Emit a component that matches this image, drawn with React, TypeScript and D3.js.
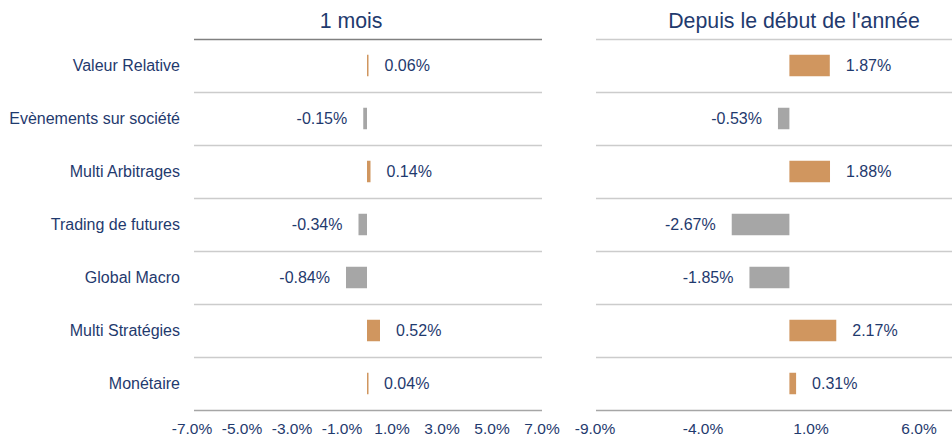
import React from "react";
import * as d3 from "d3";

const categories = [
  "Valeur Relative",
  "Evènements sur société",
  "Multi Arbitrages",
  "Trading de futures",
  "Global Macro",
  "Multi Stratégies",
  "Monétaire",
];
const monthValues = [0.06, -0.15, 0.14, -0.34, -0.84, 0.52, 0.04];
const ytdValues = [1.87, -0.53, 1.88, -2.67, -1.85, 2.17, 0.31];
const monthTicks = [-7, -5, -3, -1, 1, 3, 5, 7];
const ytdTicks = [-9, -4, 1, 6];
const titles = ["1 mois", "Depuis le début de l'année"];

const W = 952;
const H = 437;
const TEXT = "#1f3a6e";
const POS = "#d0965f";
const NEG = "#a6a6a6";
const FONT = "'Liberation Sans', Arial, sans-serif";

const y = d3.scaleBand<string>().domain(categories).range([39, 410]).paddingInner(0).paddingOuter(0);
const barH = 21.5;

const fmt = (v: number) => v.toFixed(2) + "%";
const tickFmt = (v: number) => v.toFixed(1) + "%";

type PanelProps = {
  values: number[];
  ticks: number[];
  domain: [number, number];
  range: [number, number];
  lineRange: [number, number];
  title: string;
  titleX: number;
  headerColor: string;
};

function Panel({ values, ticks, domain, range, lineRange, title, titleX, headerColor }: PanelProps) {
  const x = d3.scaleLinear().domain(domain).range(range);
  const bounds = categories.map((c) => y(c)!);
  return (
    <g>
      <text x={titleX} y={28} textAnchor="middle" fontSize={21.3} fill={TEXT} fontFamily={FONT}>
        {title}
      </text>
      {bounds.map((b, i) => (
        <line
          key={"l" + i}
          x1={lineRange[0]}
          x2={lineRange[1]}
          y1={b + 0.5}
          y2={b + 0.5}
          stroke={i === 0 ? headerColor : "#cccccc"}
          strokeWidth={1.3}
        />
      ))}
      <line
        x1={lineRange[0]}
        x2={lineRange[1]}
        y1={y.range()[1] + 0.5}
        y2={y.range()[1] + 0.5}
        stroke="#a6a6a6"
        strokeWidth={1.3}
      />
      {values.map((v, i) => {
        const c = categories[i];
        const cy = y(c)! + y.bandwidth() / 2;
        const x0 = x(0);
        const x1 = x(v);
        const left = Math.min(x0, x1);
        const w = Math.max(Math.abs(x1 - x0), 1.5);
        return (
          <g key={"b" + i}>
            <rect x={left} y={cy - barH / 2} width={w} height={barH} fill={v >= 0 ? POS : NEG} />
            <text
              x={v >= 0 ? x1 + 16 : x1 - 16}
              y={cy}
              dy="0.36em"
              textAnchor={v >= 0 ? "start" : "end"}
              fontSize={16}
              fill={TEXT}
              fontFamily={FONT}
            >
              {fmt(v)}
            </text>
          </g>
        );
      })}
      {ticks.map((t) => (
        <text key={"t" + t} x={x(t)} y={434} textAnchor="middle" fontSize={15.5} fill={TEXT} fontFamily={FONT}>
          {tickFmt(t)}
        </text>
      ))}
    </g>
  );
}

export default function App() {
  return (
    <div style={{ position: "absolute", left: 0, top: 0, width: W, height: H, background: "#fff" }}>
      <svg width={W} height={H} style={{ display: "block" }}>
        <rect width={W} height={H} fill="#fff" />
        {categories.map((c) => (
          <text
            key={c}
            x={180}
            y={y(c)! + y.bandwidth() / 2}
            dy="0.36em"
            textAnchor="end"
            fontSize={16}
            fill={TEXT}
            fontFamily={FONT}
          >
            {c}
          </text>
        ))}
        <Panel
          values={monthValues}
          ticks={monthTicks}
          domain={[-7, 7]}
          range={[192, 542]}
          lineRange={[194, 542]}
          title={titles[0]}
          titleX={351}
          headerColor="#808080"
        />
        <Panel
          values={ytdValues}
          ticks={ytdTicks}
          domain={[-9, 6]}
          range={[595, 919]}
          lineRange={[596, 952]}
          title={titles[1]}
          titleX={794}
          headerColor="#cccccc"
        />
      </svg>
    </div>
  );
}
